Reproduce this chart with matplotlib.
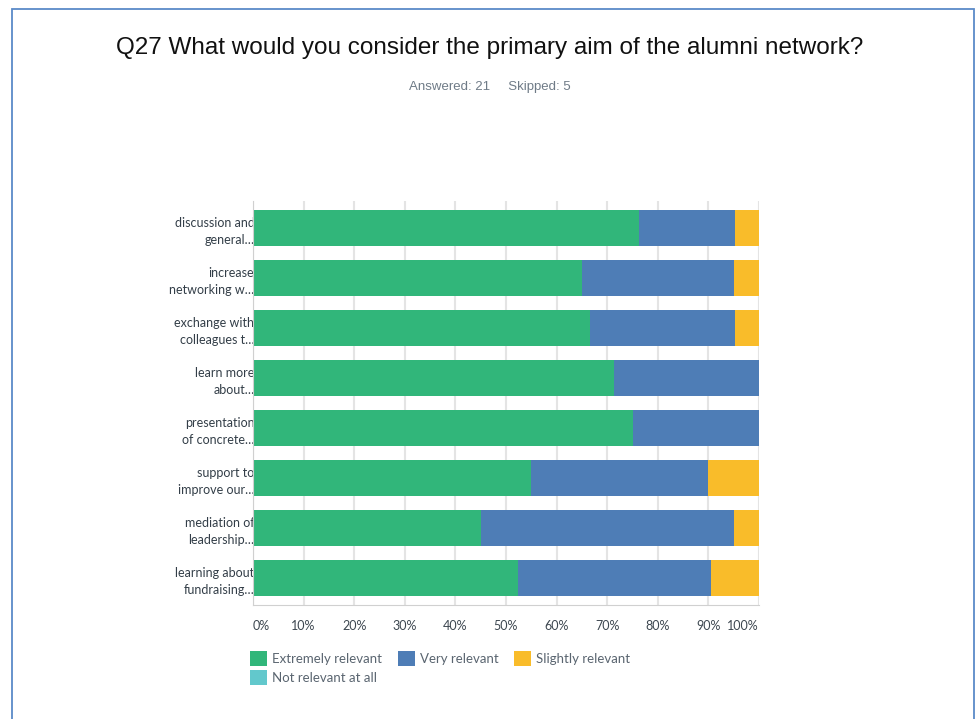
import numpy as np
import matplotlib.pyplot as plt
from matplotlib.patches import Rectangle, Patch

# 数据（从图上读出的百分比）
questions = ['discussion and\ngeneral…', 'increase\nnetworking w…', 'exchange with\ncolleagues t…',
             'learn more\nabout…', 'presentation\nof concrete…', 'support to\nimprove our…',
             'mediation of\nleadership…', 'learning about\nfundraising…']
series_names = ['Extremely relevant', 'Very relevant', 'Slightly relevant', 'Not relevant at all']
extremely = [76.19, 65.0, 66.67, 71.43, 75.0, 55.0, 45.0, 52.38]
very = [19.05, 30.0, 28.57, 28.57, 25.0, 35.0, 50.0, 38.10]
slightly = [4.76, 5.0, 4.76, 0.0, 0.0, 10.0, 5.0, 9.52]
not_at_all = [0.0, 0.0, 0.0, 0.0, 0.0, 0.0, 0.0, 0.0]
colors = ['#31b67a', '#4e7db6', '#f9bc2a', '#62c8cc']
xticks = [0, 10, 20, 30, 40, 50, 60, 70, 80, 90, 100]
xtick_labels = ['0%', '10%', '20%', '30%', '40%', '50%', '60%', '70%', '80%', '90%', '100%']

txt_color = '#333e48'
font = 'Lato'

fig = plt.figure(figsize=(9.79, 7.19), dpi=100)

# 外框
fig.patches.append(Rectangle((12 / 979, -0.02), 962 / 979, 1.02 - 9 / 719, transform=fig.transFigure,
                             fill=False, edgecolor='#5b8ac8', linewidth=1.3))

fig.text(0.5, 1 - 48 / 719, 'Q27 What would you consider the primary aim of the alumni network?',
         ha='center', va='center', fontsize=17.5, family='Liberation Sans', color='#111111')
fig.text(0.5, 1 - 87 / 719, 'Answered: 21     Skipped: 5', ha='center', va='center',
         fontsize=9.5, family='Liberation Sans', color='#6f7b87')

ax = fig.add_axes([253 / 979, 1 - 605 / 719, 506 / 979, 404 / 719])
y = np.arange(len(questions))
left = np.zeros(len(questions))
for name, vals, c in zip(series_names, [extremely, very, slightly, not_at_all], colors):
    vals = np.array(vals)
    ax.barh(y, vals, left=left, height=0.72, color=c, label=name, zorder=3)
    left += vals

ax.set_xlim(0, 100)
ax.set_ylim(len(questions) - 0.46, -0.54)
ax.set_yticks(y)
ax.set_yticklabels(questions, fontsize=9, family=font, color=txt_color, ha='right', linespacing=1.45)
ax.set_xticks(xticks)
ax.set_xticklabels(xtick_labels, fontsize=9, family=font, color='#3d4750')
labs = ax.get_xticklabels()
labs[0].set_ha('left')
labs[-1].set_ha('right')
ax.tick_params(axis='x', length=0, pad=11)
ax.tick_params(axis='y', length=0, pad=-1)
ax.grid(axis='x', color='#e4e4e4', linewidth=1.5, zorder=0)
for s in ['top', 'right']:
    ax.spines[s].set_visible(False)
ax.spines['left'].set_color('#d0d0d0')
ax.spines['bottom'].set_color('#d0d0d0')
ax.spines['left'].set_zorder(4)

# 图例：行优先排列
handles = [Patch(facecolor=c, edgecolor='none') for c in colors]
order = [0, 3, 1, 2]
leg = fig.legend([handles[i] for i in order], [series_names[i] for i in order], ncol=3,
                 loc='upper left', bbox_to_anchor=(245 / 979, 1 - 646 / 719), frameon=False,
                 prop={'family': font, 'size': 9.5}, handlelength=1.3, handleheight=1.3,
                 handletextpad=0.35, columnspacing=1.2, labelspacing=0.35, borderaxespad=0)
for t in leg.get_texts():
    t.set_color('#5a6570')

fig.savefig('out.png', dpi=100)
